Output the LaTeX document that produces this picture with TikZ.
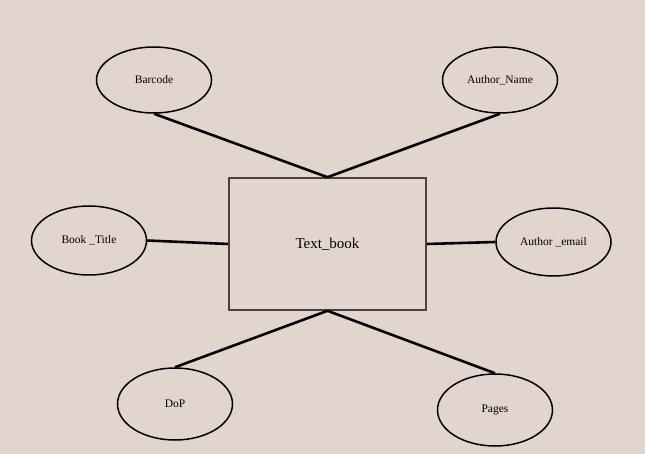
\documentclass[tikz,border=0pt]{standalone}
\usepackage{fontspec}
\setmainfont{Liberation Serif}
\usetikzlibrary{shapes.geometric}
\definecolor{paper}{HTML}{E2D5CD}
\definecolor{boxline}{HTML}{4A4242}
\tikzset{
  attr/.style={ellipse, draw=black, line width=1.5pt, minimum width=115pt,
    minimum height=66pt, inner sep=0pt, font=\fontsize{11.5}{13}\selectfont},
  entity/.style={rectangle, draw=boxline, line width=1.6pt, minimum width=197pt,
    minimum height=132pt, font=\fontsize{15}{17}\selectfont},
  link/.style={line width=2.6pt}
}
\begin{document}
\begin{tikzpicture}[x=1pt, y=-1pt]
    % Canvas
    \fill[paper] (0,0) rectangle (645,454);
    \useasboundingbox (0,0) rectangle (645,454);
    % Entity
    \node[entity] (book) at (327.5,244) {Text\_book};
    % Attributes
    \node[attr] (barcode) at (154,80) {Barcode};
    \node[attr] (authname) at (500,80) {Author\_Name};
    \node[attr, minimum height=69pt] (title) at (89,240.5) {Book \_Title};
    \node[attr, minimum height=68pt] (email) at (553.5,242) {Author \_email};
    \node[attr, minimum height=72pt] (dop) at (175,404) {DoP};
    \node[attr, minimum height=72pt] (pages) at (495,410) {Pages};
    % Links
    \draw[link] (barcode.south) -- (book.north);
    \draw[link] (authname.south) -- (book.north);
    \draw[link] (title.east) -- (book.west);
    \draw[link] (email.west) -- (book.east);
    \draw[link] (dop.north) -- (book.south);
    \draw[link] (pages.north) -- (book.south);
\end{tikzpicture}
\end{document}
